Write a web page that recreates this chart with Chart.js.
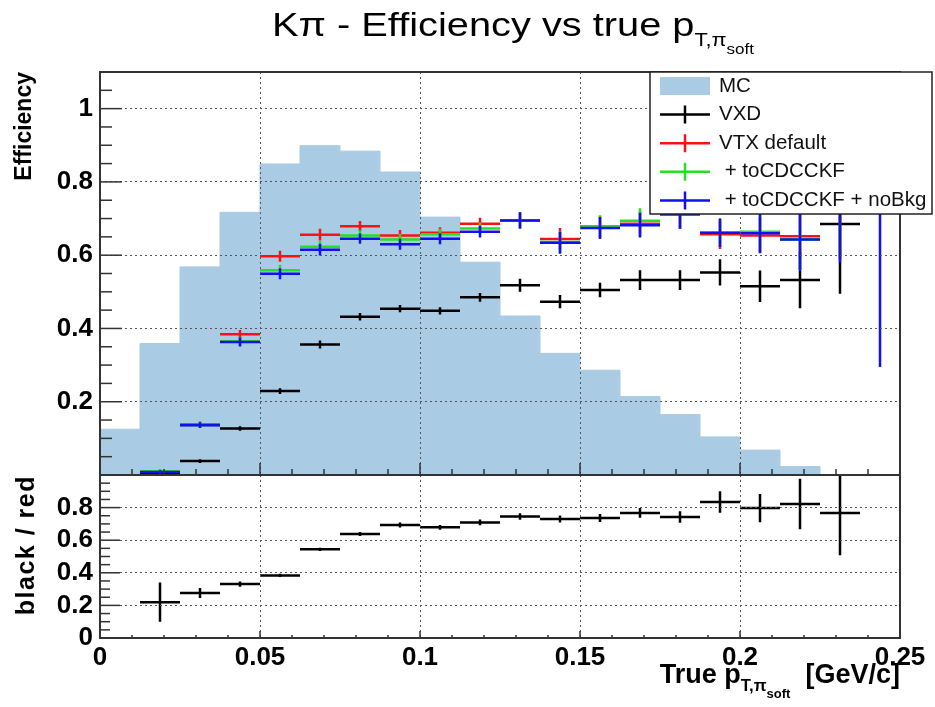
<!DOCTYPE html>
<html>
<head>
<meta charset="utf-8">
<script src="https://cdn.jsdelivr.net/npm/chart.js@4.4.0/dist/chart.umd.min.js"></script>
<style>
  body { margin: 0; background: #fff; }
  #wrap { position: relative; width: 935px; height: 707px; overflow: hidden; font-family: "Liberation Sans", Arial, sans-serif; color: #000; }
  canvas { position: absolute; left: 0; }
  #top { top: 0; }
  #bottom { top: 440px; }
  .txt { position: absolute; white-space: nowrap; line-height: 1; }
  .s1 { font-size: 0.62em; position: relative; top: 0.45em; }
  .s2 { font-size: 0.78em; position: relative; top: 0.55em; }
  #title .s1 { font-size: 0.55em; top: 0.55em; }
  .rot { transform-origin: top left; transform: rotate(-90deg); text-align: right; font-weight: bold; }
</style>
</head>
<body>
<div id="wrap">
  <canvas id="bottom" width="935" height="267"></canvas>
  <canvas id="top" width="935" height="500"></canvas>
  <div class="txt" id="title" style="left:272px; top:7px; font-size:34px; transform-origin:left top; transform:scaleX(1.17);">Kπ - Efficiency vs true p<span class="s1">T,π<span class="s2">soft</span></span></div>
  <div class="txt" id="xtitle" style="right:35px; top:661px; font-size:27px; font-weight:bold;">True p<span class="s1">T,π<span class="s2">soft</span></span>&nbsp;&nbsp;[GeV/c]</div>
  <div class="txt rot" style="left:12px; top:372px; width:300px; font-size:23px;">Efficiency</div>
  <div class="txt rot" style="left:13px; top:675px; width:200px; font-size:25px; letter-spacing:1.5px;">black / red</div>
</div>
<script>
// bins of true pT of the soft pion (GeV/c)
const binEdges = [0, 0.0125, 0.025, 0.0375, 0.05, 0.0625, 0.075, 0.0875, 0.1, 0.1125, 0.125,
                  0.1375, 0.15, 0.1625, 0.175, 0.1875, 0.2, 0.2125, 0.225, 0.2375, 0.25];

// MC distribution (shape, shaded)
const mcShape = [0.125, 0.359, 0.568, 0.717, 0.849, 0.899, 0.884, 0.827, 0.704, 0.581,
                 0.434, 0.332, 0.286, 0.214, 0.165, 0.104, 0.068, 0.023, 0, 0];

// efficiencies and errors per bin
const vxdEff = [null, 0.002, 0.038, 0.127, 0.229, 0.356, 0.432, 0.454, 0.448, 0.485,
                0.518, 0.473, 0.505, 0.532, 0.532, 0.553, 0.515, 0.532, 0.685, null];
const vxdErr = [null, 0.001, 0.005, 0.006, 0.008, 0.011, 0.01, 0.01, 0.01, 0.012,
                0.018, 0.018, 0.02, 0.027, 0.027, 0.036, 0.043, 0.077, 0.19, null];

const vtxEff = [null, 0.01, 0.138, 0.384, 0.597, 0.656, 0.679, 0.654, 0.661, 0.686,
                0.695, 0.644, 0.677, 0.686, 0.712, 0.657, 0.654, 0.652, 0.89, null];
const vtxErr = [null, 0.005, 0.008, 0.012, 0.015, 0.016, 0.014, 0.015, 0.015, 0.016,
                0.022, 0.03, 0.03, 0.034, 0.04, 0.04, 0.048, 0.06, 0.3, null];

const cdcEff = [null, 0.01, 0.136, 0.365, 0.559, 0.623, 0.654, 0.643, 0.657, 0.673,
                0.695, 0.636, 0.679, 0.694, 0.712, 0.661, 0.664, 0.643, 0.89, null];
const cdcErr = [null, 0.005, 0.008, 0.012, 0.015, 0.016, 0.014, 0.015, 0.015, 0.016,
                0.022, 0.03, 0.03, 0.034, 0.04, 0.039, 0.055, 0.085, 0.3, null];

const noBkgEff = [null, 0.008, 0.136, 0.363, 0.549, 0.615, 0.645, 0.630, 0.645, 0.664,
                  0.695, 0.634, 0.674, 0.682, 0.712, 0.661, 0.660, 0.643, 0.89, 0.9];
const noBkgErr = [null, 0.005, 0.008, 0.012, 0.015, 0.016, 0.014, 0.015, 0.015, 0.016,
                  0.022, 0.03, 0.03, 0.034, 0.04, 0.039, 0.055, 0.085, 0.31, 0.605];

// ratio VXD / VTX default
const ratio = [null, 0.22, 0.276, 0.331, 0.384, 0.544, 0.638, 0.693, 0.679, 0.709,
               0.746, 0.73, 0.736, 0.767, 0.742, 0.834, 0.797, 0.822, 0.767, null];
const ratioErr = [null, 0.12, 0.03, 0.016, 0.01, 0.01, 0.012, 0.015, 0.015, 0.018,
                  0.02, 0.022, 0.025, 0.03, 0.035, 0.066, 0.087, 0.155, 0.26, null];

// ticks
const xMajor = [0, 0.05, 0.1, 0.15, 0.2, 0.25];
const xLabels = ['0', '0.05', '0.1', '0.15', '0.2', '0.25'];
const yTopMajor = [0, 0.2, 0.4, 0.6, 0.8, 1];
const yTopLabels = ['', '0.2', '0.4', '0.6', '0.8', '1'];
const yBotMajor = [0, 0.2, 0.4, 0.6, 0.8, 1];
const yBotLabels = ['0', '0.2', '0.4', '0.6', '0.8', ''];

const mcColour = '#a9cce4';
const tickFont = { family: 'Liberation Sans', size: 26, weight: 'bold' };

const halfBin = (binEdges[1] - binEdges[0]) / 2;
const binCentres = binEdges.slice(0, -1).map((e, i) => (e + binEdges[i + 1]) / 2);

function points(vals, errs) {
    const out = [];
    vals.forEach((v, i) => {
        if (v !== null) out.push({ x: binCentres[i], y: v, xerr: halfBin, yerr: errs[i] });
    });
    return out;
}

function histo(vals) {
    return binEdges.map((e, i) => ({ x: e, y: vals[Math.min(i, vals.length - 1)] }));
}

function findTick(v, list) {
    return list.findIndex(t => Math.abs(t - v) < 1e-6);
}

// error bars (x = bin width, y = error)
const errorBars = {
    id: 'errorBars',
    afterDatasetsDraw(chart) {
        const { ctx, chartArea: a, scales } = chart;
        ctx.save();
        ctx.beginPath();
        ctx.rect(a.left, a.top, a.width, a.height);
        ctx.clip();
        chart.data.datasets.forEach(ds => {
            if (!ds.errorBars) return;
            ctx.strokeStyle = ds.borderColor;
            ctx.lineWidth = ds.borderWidth;
            ds.data.forEach(p => {
                const xc = scales.x.getPixelForValue(p.x);
                const x0 = scales.x.getPixelForValue(p.x - p.xerr);
                const x1 = scales.x.getPixelForValue(p.x + p.xerr);
                const y = scales.y.getPixelForValue(p.y);
                const ylo = scales.y.getPixelForValue(p.y - p.yerr);
                const yhi = scales.y.getPixelForValue(p.y + p.yerr);
                ctx.beginPath();
                ctx.moveTo(x0, y); ctx.lineTo(x1, y);
                ctx.moveTo(xc, ylo); ctx.lineTo(xc, yhi);
                ctx.stroke();
            });
        });
        ctx.restore();
    }
};

// ROOT style ticks inside the frame + frame
const innerTicks = {
    id: 'innerTicks',
    afterDraw(chart, args, o) {
        const { ctx, chartArea: a, scales } = chart;
        ctx.save();
        ctx.strokeStyle = '#333';
        ctx.lineWidth = 1.5;
        scales.y.ticks.forEach(t => {
            const y = scales.y.getPixelForValue(t.value);
            const len = findTick(t.value, o.yMajor) >= 0 ? o.yLong : o.yShort;
            ctx.beginPath(); ctx.moveTo(a.left, y); ctx.lineTo(a.left + len, y); ctx.stroke();
        });
        scales.x.ticks.forEach(t => {
            const x = scales.x.getPixelForValue(t.value);
            const len = findTick(t.value, xMajor) >= 0 ? o.xLong : o.xShort;
            ctx.beginPath(); ctx.moveTo(x, a.bottom); ctx.lineTo(x, a.bottom - len); ctx.stroke();
        });
        ctx.lineWidth = 2;
        ctx.strokeRect(a.left, a.top, a.width, a.height);
        ctx.restore();
    }
};

// legend box drawn over the data, like the ROOT TLegend
const boxLegend = {
    id: 'boxLegend',
    afterDraw(chart, args, o) {
        const ctx = chart.ctx;
        ctx.save();
        ctx.fillStyle = '#fff';
        ctx.fillRect(o.x, o.y, o.w, o.h);
        ctx.strokeStyle = '#222';
        ctx.lineWidth = 1.5;
        ctx.strokeRect(o.x, o.y, o.w, o.h);
        ctx.font = o.font;
        ctx.textBaseline = 'middle';
        chart.data.datasets.forEach((ds, i) => {
            const cy = o.y + o.first + i * o.step;
            if (ds.fill) {
                ctx.fillStyle = ds.backgroundColor;
                ctx.fillRect(o.symX, cy - 9, o.symW, 18);
            } else {
                ctx.strokeStyle = ds.borderColor;
                ctx.lineWidth = ds.borderWidth;
                ctx.beginPath();
                ctx.moveTo(o.symX, cy); ctx.lineTo(o.symX + o.symW, cy);
                ctx.moveTo(o.symX + o.symW / 2, cy - 9); ctx.lineTo(o.symX + o.symW / 2, cy + 9);
                ctx.stroke();
            }
            ctx.fillStyle = '#111';
            ctx.fillText(ds.label, o.textX, cy);
        });
        ctx.restore();
    }
};

function gridFor(majors) {
    return {
        drawTicks: false,
        z: 1,
        color: '#555',
        lineWidth: c => (c.tick && findTick(c.tick.value, majors) >= 0 ? 1 : 0)
    };
}

function errSet(label, colour, vals, errs) {
    return { label: label, data: points(vals, errs), borderColor: colour, backgroundColor: colour,
             borderWidth: 2.5, pointRadius: 0, errorBars: true };
}

// upper pad
new Chart(document.getElementById('top'), {
    type: 'scatter',
    data: {
        datasets: [
            { type: 'line', label: 'MC', data: histo(mcShape), stepped: 'before', fill: 'origin',
              backgroundColor: mcColour, borderColor: mcColour, borderWidth: 1, pointRadius: 0 },
            errSet('VXD', '#000000', vxdEff, vxdErr),
            errSet('VTX default', '#ff1010', vtxEff, vtxErr),
            errSet(' + toCDCCKF', '#22e022', cdcEff, cdcErr),
            errSet(' + toCDCCKF + noBkg', '#1010f0', noBkgEff, noBkgErr)
        ]
    },
    options: {
        responsive: false,
        animation: false,
        events: [],
        layout: { padding: { left: 0, top: 72, right: 35, bottom: 25 } },
        plugins: {
            legend: { display: false },
            tooltip: { enabled: false },
            innerTicks: { yMajor: yTopMajor, yLong: 22, yShort: 12, xLong: 12, xShort: 6 },
            boxLegend: { x: 650, y: 72, w: 282, h: 142, first: 14, step: 28.6, symX: 660, symW: 50,
                         textX: 719, font: '20.5px "Liberation Sans"' }
        },
        scales: {
            x: {
                type: 'linear', min: 0, max: 0.25,
                ticks: { stepSize: 0.01, display: false, autoSkip: false },
                grid: gridFor(xMajor),
                border: { display: false, dash: [2, 3] },
                afterFit: s => { s.height = 0; }
            },
            y: {
                min: 0, max: 1.1,
                ticks: { stepSize: 0.05, autoSkip: false, padding: 7, font: tickFont, color: '#000',
                         callback: v => { const i = findTick(v, yTopMajor); return i < 0 ? '' : yTopLabels[i]; } },
                grid: gridFor(yTopMajor),
                border: { display: false, dash: [2, 3] },
                afterFit: s => { s.width = 100; }
            }
        }
    },
    plugins: [errorBars, innerTicks, boxLegend]
});

// lower pad: ratio
new Chart(document.getElementById('bottom'), {
    type: 'scatter',
    data: {
        datasets: [ errSet('black / red', '#000000', ratio, ratioErr) ]
    },
    options: {
        responsive: false,
        animation: false,
        events: [],
        layout: { padding: { left: 0, top: 35, right: 35, bottom: 0 } },
        plugins: {
            legend: { display: false },
            tooltip: { enabled: false },
            innerTicks: { yMajor: yBotMajor, yLong: 20, yShort: 10, xLong: 7, xShort: 3 }
        },
        scales: {
            x: {
                type: 'linear', min: 0, max: 0.25,
                ticks: { stepSize: 0.01, autoSkip: false, padding: 4, maxRotation: 0, minRotation: 0,
                         font: tickFont, color: '#000',
                         callback: v => { const i = findTick(v, xMajor); return i < 0 ? '' : xLabels[i]; } },
                grid: gridFor(xMajor),
                border: { display: false, dash: [2, 3] },
                afterFit: s => { s.height = 69; }
            },
            y: {
                min: 0, max: 1,
                ticks: { stepSize: 0.05, autoSkip: false, padding: 7, font: tickFont, color: '#000',
                         callback: v => { const i = findTick(v, yBotMajor); return i < 0 ? '' : yBotLabels[i]; } },
                grid: gridFor(yBotMajor),
                border: { display: false, dash: [2, 3] },
                afterFit: s => { s.width = 100; }
            }
        }
    },
    plugins: [errorBars, innerTicks]
});
</script>
</body>
</html>
